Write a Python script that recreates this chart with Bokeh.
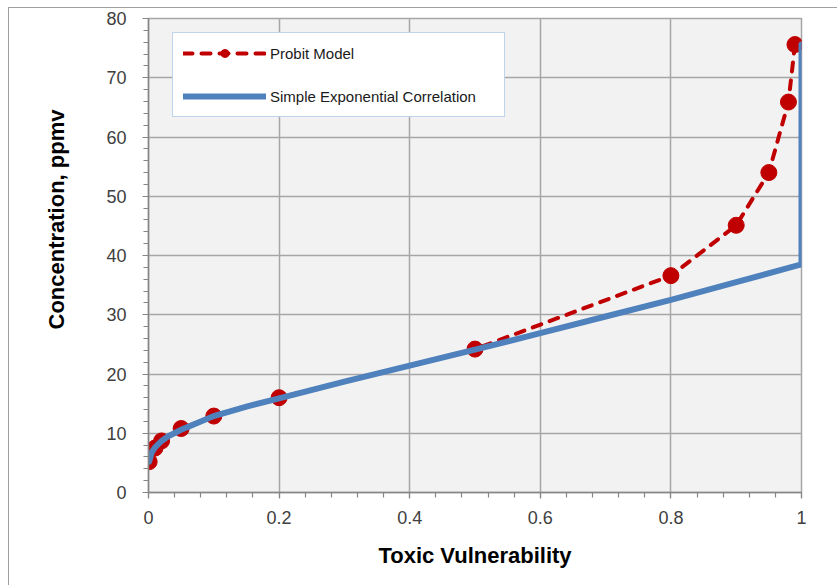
import numpy as np
from bokeh.plotting import figure
from bokeh.models import FixedTicker, Legend, LegendItem, Title
from bokeh.embed import file_html
from bokeh.resources import INLINE

# ---- data ----
probit_x = [0.001, 0.01, 0.02, 0.05, 0.1, 0.2, 0.5, 0.8, 0.9, 0.95, 0.98, 0.99]
probit_y = [5.2, 7.5, 8.7, 10.8, 12.9, 16.0, 24.2, 36.6, 45.1, 54.0, 65.9, 75.6]

expo_x = [0.001, 0.005, 0.01, 0.02, 0.03, 0.05, 0.1, 0.15, 0.2, 0.3, 0.4, 0.5,
          0.6, 0.7, 0.8, 0.9, 1.0, 1.0]
expo_y = [5.2, 6.8, 7.6, 8.7, 9.5, 10.6, 12.9, 14.5, 15.9, 18.7, 21.4, 24.1,
          26.9, 29.7, 32.5, 35.5, 38.5, 75.6]

x_ticks = [0, 0.2, 0.4, 0.6, 0.8, 1.0]
x_tick_labels = ["0", "0.2", "0.4", "0.6", "0.8", "1"]
y_ticks = [0, 10, 20, 30, 40, 50, 60, 70, 80]

series_names = ["Probit Model", "Simple Exponential Correlation"]
x_title = "Toxic Vulnerability"
y_title = "Concentration, ppmv"

FONT = "Liberation Sans"
RED = "#C00000"
BLUE = "#4F81BD"
GRID = "#A6A6A6"

p = figure(width=829, height=578, x_range=(0, 1), y_range=(0, 80),
           output_backend="svg", toolbar_location=None,
           min_border_left=139, min_border_right=37,
           min_border_top=10, min_border_bottom=94)
p.styles = {"margin-left": "8px", "margin-top": "7px",
            "border-left": "1px solid #A0A0A0", "border-top": "1px solid #A0A0A0"}

p.background_fill_color = "#F2F2F2"
p.border_fill_color = "white"
p.outline_line_color = GRID
p.outline_line_width = 1.5

# ticks
x_minor = [round(v, 2) for v in np.arange(0, 1.0001, 0.04)]
y_minor = list(range(0, 81, 2))
p.xaxis.ticker = FixedTicker(ticks=x_ticks, minor_ticks=x_minor)
p.yaxis.ticker = FixedTicker(ticks=y_ticks, minor_ticks=y_minor)
p.xaxis.major_label_overrides = {t: l for t, l in zip(x_ticks, x_tick_labels)}

for ax in (p.xaxis[0], p.yaxis[0]):
    ax.axis_line_color = "#868686"
    ax.axis_line_width = 1.5
    ax.major_tick_line_color = "#868686"
    ax.minor_tick_line_color = "#868686"
    ax.major_tick_line_width = 1.2
    ax.minor_tick_line_width = 1.2
    ax.major_tick_in = 0
    ax.minor_tick_in = 0
    ax.major_tick_out = 6
    ax.minor_tick_out = 5
    ax.major_label_text_font = FONT
    ax.major_label_text_font_size = "18px"
    ax.major_label_text_color = "#404040"

p.xaxis.axis_label = x_title
p.xaxis.axis_label_text_font = FONT
p.xaxis.axis_label_text_font_style = "bold"
p.xaxis.axis_label_text_font_size = "22px"
p.xaxis.axis_label_text_color = "black"
p.xaxis.major_label_standoff = 12
p.yaxis.major_label_standoff = 16
p.xaxis.axis_label_standoff = 16

ytitle = Title(text=y_title, align="right", vertical_align="top",
               offset=91, standoff=66,
               text_font=FONT, text_font_style="bold", text_font_size="22px",
               text_color="black")
p.add_layout(ytitle, "left")

p.grid.grid_line_color = GRID
p.grid.grid_line_width = 1.5
p.xgrid.ticker = FixedTicker(ticks=x_ticks)
p.ygrid.ticker = FixedTicker(ticks=y_ticks)

# series
r_line = p.line(probit_x, probit_y, line_color=RED, line_width=4,
                line_dash="9 9", line_cap="round")
r_pts = p.scatter(probit_x, probit_y, size=16, fill_color=RED, line_color=RED,
                  marker="circle")
b_line = p.line(expo_x, expo_y, line_color=BLUE, line_width=6,
                line_cap="round", line_join="miter")

legend = Legend(items=[
    LegendItem(label=series_names[0], renderers=[r_line, r_pts]),
    LegendItem(label=series_names[1], renderers=[b_line]),
], location=(24, 375), margin=0, padding=10, spacing=23,
   glyph_width=83, glyph_height=20, label_height=20, label_width=224,
   label_standoff=4, label_text_font=FONT, label_text_font_size="15px",
   label_text_color="#1A1A1A", border_line_color="#7FA7D7", border_line_width=1.5,
   background_fill_color="white", background_fill_alpha=1.0)
p.add_layout(legend)

open("out.html", "w").write(file_html(p, INLINE))
